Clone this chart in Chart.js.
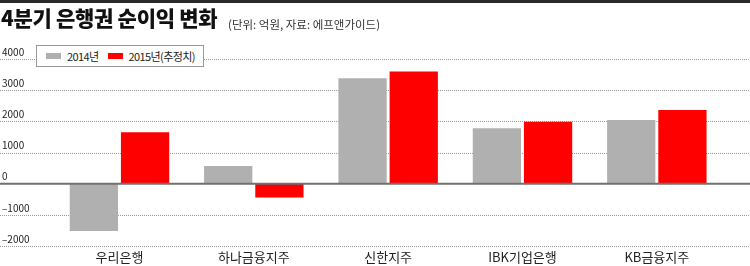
<!DOCTYPE html>
<html>
<head>
<meta charset="utf-8">
<script src="https://cdn.jsdelivr.net/npm/chart.js@4"></script>
<style>
  body { margin: 0; background: #fff; }
  #wrap { position: relative; width: 750px; height: 266px; overflow: hidden; font-family: 'Noto Sans CJK KR', 'Noto Sans', sans-serif; }
  #topline { position: absolute; left: 0; top: 0; width: 750px; height: 3px; background: #2a2a2a; }
  #title { position: absolute; left: 1px; top: 4px; font-size: 21px; line-height: 27px; font-weight: 900; color: #111; letter-spacing: -0.3px; white-space: nowrap; }
  #sub { position: absolute; left: 228px; top: 15px; font-size: 11.5px; line-height: 18px; color: #333; letter-spacing: 0; white-space: nowrap; }
  #legend { position: absolute; left: 36px; top: 45px; width: 166px; height: 20px; border: 1px solid #9a9a9a; background: #fff; display: flex; align-items: center; font-size: 11px; color: #222; letter-spacing: -0.6px; white-space: nowrap; }
  #legend .sw { width: 15px; height: 6px; margin-right: 6px; flex: none; }
  #legend .item { display: flex; align-items: center; margin-left: 9px; white-space: nowrap; }
  #legend .item + .item { margin-left: 9px; }
  canvas { position: absolute; left: 0; top: 0; }
</style>
</head>
<body>
<div id="wrap">
  <canvas id="myChart" width="750" height="266"></canvas>
  <div id="topline"></div>
  <div id="title">4분기 은행권 순이익 변화</div>
  <div id="sub">(단위: 억원, 자료: 에프앤가이드)</div>
  <div id="legend"></div>
</div>
<script>
// 데이터 (억원)
const banks = ["우리은행", "하나금융지주", "신한지주", "IBK기업은행", "KB금융지주"];
const q4_2014 = [-1518, 563, 3383, 1775, 2042];
const q4_2015 = [1646, -444, 3595, 1990, 2363];
const seriesNames = ["2014년", "2015년(추정치)"];
const seriesColors = ["#b0b0b0", "#ff0000"];
const yTicks = [-2000, -1000, 0, 1000, 2000, 3000, 4000];

// legend (html box)
const lg = document.getElementById("legend");
seriesNames.forEach((name, i) => {
  const it = document.createElement("div");
  it.className = "item";
  it.innerHTML = '<div class="sw" style="background:' + seriesColors[i] + '"></div><span>' + name + '</span>';
  lg.appendChild(it);
});

// dotted grid lines across the whole width + solid zero line
const fullGrid = {
  id: "fullGrid",
  beforeDatasetsDraw(chart) {
    const c = chart.ctx;
    const y = chart.scales.y;
    c.save();
    c.strokeStyle = "#9a9a9a";
    c.lineWidth = 1;
    c.setLineDash([1, 1]);
    yTicks.forEach((v) => {
      if (v === 0) return;
      const py = Math.round(y.getPixelForValue(v)) + 0.5;
      c.beginPath();
      c.moveTo(0, py);
      c.lineTo(chart.width, py);
      c.stroke();
    });
    c.restore();
  },
  afterDatasetsDraw(chart) {
    const c = chart.ctx;
    const py = chart.scales.y.getPixelForValue(0);
    c.save();
    c.strokeStyle = "#707070";
    c.lineWidth = 2;
    c.beginPath();
    c.moveTo(0, py);
    c.lineTo(chart.width, py);
    c.stroke();
    c.restore();
  },
};

const ctx = document.getElementById("myChart").getContext("2d");
const myChart = new Chart(ctx, {
  type: "bar",
  data: {
    labels: banks,
    datasets: [
      { label: seriesNames[0], data: q4_2014, backgroundColor: seriesColors[0], borderWidth: 0 },
      { label: seriesNames[1], data: q4_2015, backgroundColor: seriesColors[1], borderWidth: 0 },
    ],
  },
  options: {
    responsive: false,
    animation: false,
    layout: { padding: { top: 59, left: 2, right: 26, bottom: 0 } },
    plugins: { legend: { display: false }, tooltip: { enabled: false } },
    datasets: { bar: { categoryPercentage: 0.762, barPercentage: 0.943 } },
    scales: {
      x: {
        grid: { display: false, drawTicks: false },
        border: { display: false },
        ticks: {
          color: "#222",
          padding: 3,
          font: { family: "'Noto Sans CJK KR', 'Noto Sans', sans-serif", size: 13 },
        },
        afterFit(scale) { scale.height = 20; },
      },
      y: {
        min: -2000,
        max: 4000,
        afterBuildTicks(scale) { scale.ticks = yTicks.map((v) => ({ value: v })); },
        grid: { display: false, drawTicks: false },
        border: { display: false },
        ticks: {
          crossAlign: "far",
          labelOffset: -7,
          padding: 0,
          color: "#222",
          font: { family: "'Noto Sans CJK KR', 'Noto Sans', sans-serif", size: 10 },
          callback: (v) => (v < 0 ? "\u2013" + Math.abs(v) : String(v)),
        },
        afterFit(scale) { scale.width = 50.3; },
      },
    },
  },
  plugins: [fullGrid],
});
</script>
</body>
</html>
